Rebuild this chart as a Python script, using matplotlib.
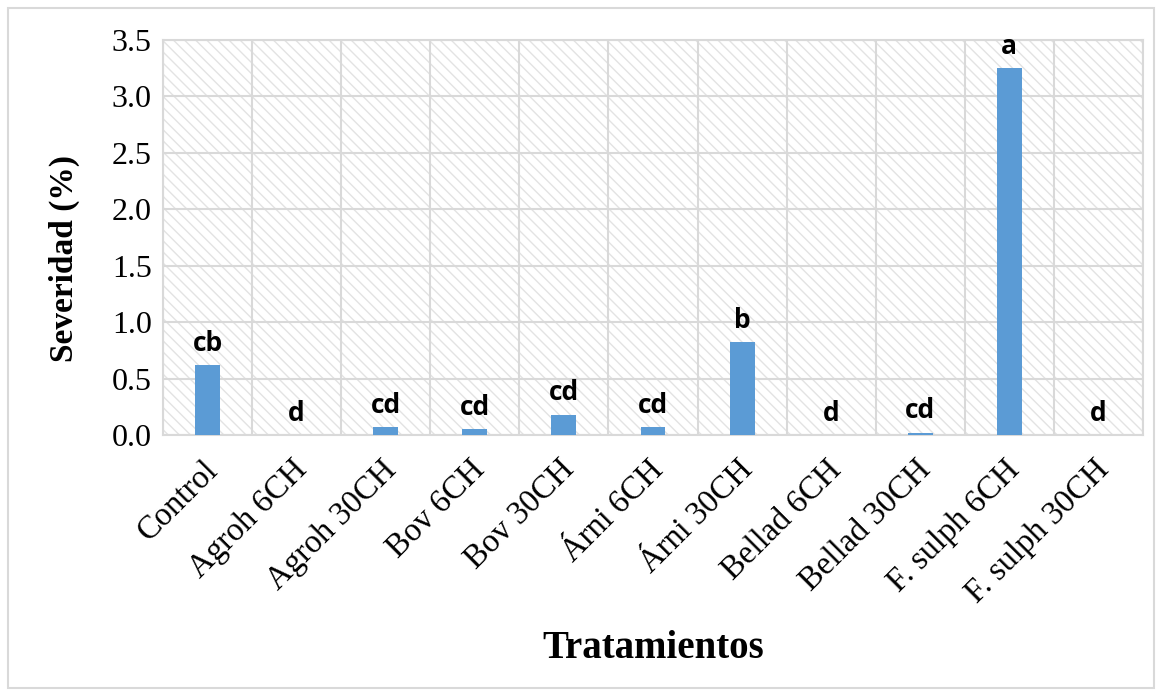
import matplotlib
matplotlib.use("Agg")
import matplotlib.pyplot as plt
import matplotlib.transforms as mtransforms
from matplotlib.patches import Rectangle
import numpy as np

categories = ["Control", "Agroh 6CH", "Agroh 30CH", "Bov 6CH", "Bov 30CH",
              "Árni 6CH", "Árni 30CH", "Bellad 6CH", "Bellad 30CH",
              "F. sulph 6CH", "F. sulph 30CH"]
values = [0.62, 0.0, 0.07, 0.05, 0.18, 0.07, 0.82, 0.0, 0.02, 3.25, 0.0]
letters = ["cb", "d", "cd", "cd", "cd", "cd", "b", "d", "cd", "a", "d"]
yticks = [0.0, 0.5, 1.0, 1.5, 2.0, 2.5, 3.0, 3.5]

plt.rcParams['hatch.linewidth'] = 1.0
plt.rcParams['hatch.color'] = '#e3e3e3'

fig = plt.figure(figsize=(11.62, 6.96), dpi=100)
ax = fig.add_axes([163/1162, 1-435/696, (1143-163)/1162, (435-40)/696])

x = np.arange(len(categories))
ax.set_xlim(-0.5, len(categories) - 0.5)
ax.set_ylim(0, 3.5)

# hatched background
bg = Rectangle((0, 0), 1, 1, transform=ax.transAxes, facecolor='white',
               edgecolor='#e3e3e3', hatch='\\' * 3, linewidth=0, zorder=0)
ax.add_patch(bg)
ax.set_facecolor('none')

# grid
for yv in yticks:
    ax.axhline(yv, color='#d9d9d9', lw=1.5, zorder=1)
for b in np.arange(-0.5, len(categories), 1.0):
    ax.axvline(b, color='#d9d9d9', lw=1.5, zorder=1)

ax.bar(x, values, width=0.28, color='#5b9bd5', zorder=3)

for xi, v, l in zip(x, values, letters):
    ax.annotate(l, (xi, v), xytext=(0, 6), textcoords='offset points',
                ha='center', va='bottom', fontsize=19, fontweight='bold',
                family='Open Sans', zorder=4)

for s in ax.spines.values():
    s.set_color('#d9d9d9')
    s.set_linewidth(1.5)

ax.set_yticks(yticks)
ax.set_yticklabels([f"{v:.1f}" for v in yticks], fontsize=23, family='Liberation Serif')
ax.set_xticks(x)
ax.set_xticklabels(categories, rotation=45, ha='right', rotation_mode='anchor',
                   fontsize=23.5, family='Liberation Serif')
ax.tick_params(axis='both', length=0, pad=8)
ax.tick_params(axis='x', pad=14)
offset = mtransforms.ScaledTranslation(-0.05, 0, fig.dpi_scale_trans)
for lab in ax.get_xticklabels():
    lab.set_transform(lab.get_transform() + offset)

ax.set_ylabel("Severidad (%)", fontsize=24, fontweight='bold', family='Liberation Serif')
ax.yaxis.set_label_coords((80-163)/980, 1 - (258-40)/395)
fig.text(653/1162, 1-648/696, "Tratamientos", fontsize=28, fontweight='bold',
         family='Liberation Serif', ha='center', va='center')

fig.add_artist(Rectangle((8/1162, 8/696), 1146/1162, 680/696, transform=fig.transFigure,
                         fill=False, edgecolor='#d9d9d9', linewidth=1.5))

fig.savefig("out.png", dpi=100)
